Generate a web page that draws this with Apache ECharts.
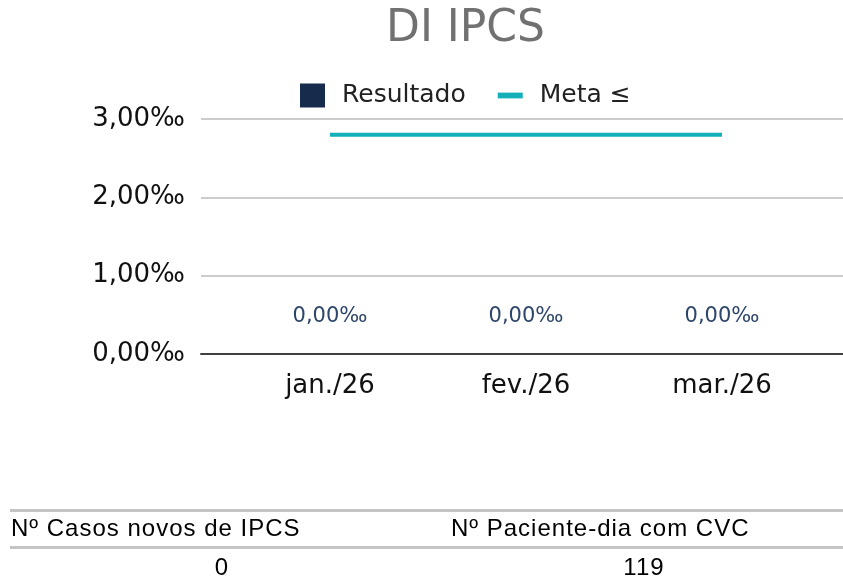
<!DOCTYPE html>
<html style="height: 100%">

<head>
    <meta charset="utf-8">
    <style>
        .tb { position: absolute; font-family: "Liberation Sans", Arial, sans-serif; font-size: 24px;
              letter-spacing: 1px; color: #000; white-space: nowrap; line-height: 30px; }
        .ln { position: absolute; left: 10px; width: 833px; height: 3px; background: #c4c4c4; }
    </style>
</head>

<body style="height: 100%; margin: 0">
    <div id="container" style="width: 843px; height: 580px; position: absolute; left: 0; top: 0"></div>
    <div class="ln" style="top: 509px"></div>
    <div class="ln" style="top: 546px"></div>
    <div class="tb" id="h0" style="left: 11px; top: 513px"></div>
    <div class="tb" id="h1" style="left: 451px; top: 513px"></div>
    <div class="tb" id="v0" style="left: 122px; width: 200px; text-align: center; top: 552px"></div>
    <div class="tb" id="v1" style="left: 544px; width: 200px; text-align: center; top: 552px"></div>
    <script type="text/javascript" src="https://cdn.jsdelivr.net/npm/echarts@6/dist/echarts.min.js"></script>
    <script type="text/javascript">

        var meses = ['jan./26', 'fev./26', 'mar./26'];
        var resultado = [0, 0, 0];
        var meta = [2.8, 2.8, 2.8];
        var tabelaTitulos = ['Nº Casos novos de IPCS', 'Nº Paciente-dia com CVC'];
        var tabelaValores = [0, 119];

        document.getElementById('h0').textContent = tabelaTitulos[0];
        document.getElementById('h1').textContent = tabelaTitulos[1];
        document.getElementById('v0').textContent = tabelaValores[0];
        document.getElementById('v1').textContent = tabelaValores[1];

        function fmt(v) {
            return v.toFixed(2).replace('.', ',') + '‰';
        }

        var font = 'DejaVu Sans';
        var dom = document.getElementById("container");
        var myChart = echarts.init(dom);

        var option = {
            animation: false,
            title: {
                text: 'DI IPCS',
                left: 381,
                top: 3,
                textStyle: { fontFamily: font, fontSize: 44, fontWeight: 'normal', color: '#717171' }
            },
            legend: {
                top: 78,
                left: 295,
                itemWidth: 25,
                itemHeight: 24,
                itemGap: 32,
                textStyle: { fontFamily: font, fontSize: 25, color: '#222', padding: [0, 0, 0, 12] },
                data: [
                    { name: 'Resultado', icon: 'rect' },
                    { name: 'Meta ≤', icon: 'path://M0,0h26v6h-26z' }
                ]
            },
            grid: [
                { left: 201, right: 0, top: 119, bottom: 226 },
                { left: 232, right: 23, top: 119, bottom: 226 }
            ],
            xAxis: [
                {
                    gridIndex: 0, type: 'category', data: [''],
                    axisLine: { lineStyle: { color: '#404040', width: 2 } },
                    axisTick: { show: false }, axisLabel: { show: false }
                },
                {
                    gridIndex: 1, type: 'category', data: meses,
                    axisLine: { show: false }, axisTick: { show: false },
                    axisLabel: { fontFamily: font, fontSize: 26, color: '#111', margin: 19 }
                }
            ],
            yAxis: [
                {
                    gridIndex: 0, type: 'value', min: 0, max: 3, interval: 1,
                    axisLine: { show: false }, axisTick: { show: false },
                    splitLine: { lineStyle: { color: '#cccccc', width: 2 } },
                    axisLabel: { fontFamily: font, fontSize: 26, color: '#111', margin: 16, formatter: fmt }
                },
                {
                    gridIndex: 1, type: 'value', min: 0, max: 3, interval: 1,
                    show: false
                }
            ],
            series: [
                {
                    name: 'Resultado', type: 'bar', xAxisIndex: 1, yAxisIndex: 1,
                    data: resultado, barWidth: '40%',
                    itemStyle: { color: '#172b4d' },
                    label: {
                        show: true, position: 'top', distance: 27,
                        fontFamily: font, fontSize: 21, color: '#2d4669',
                        formatter: function (p) { return fmt(p.value); }
                    }
                },
                {
                    name: 'Meta ≤', type: 'line', xAxisIndex: 1, yAxisIndex: 1,
                    data: meta, symbol: 'none',
                    itemStyle: { color: '#13b0b9' },
                    lineStyle: { color: '#13b0b9', width: 4 }
                }
            ]
        };

        myChart.setOption(option);
    </script>
</body>

</html>
